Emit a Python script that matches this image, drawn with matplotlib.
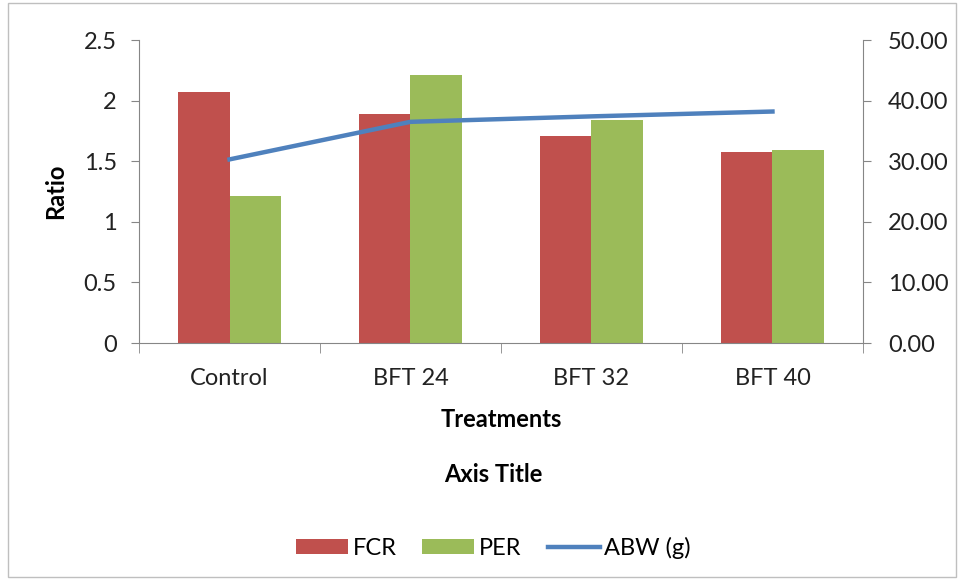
import numpy as np
import matplotlib.pyplot as plt
from matplotlib.patches import Rectangle

# data
treatments = ['Control', 'BFT 24', 'BFT 32', 'BFT 40']
fcr = [2.07, 1.89, 1.71, 1.58]
per = [1.21, 2.21, 1.84, 1.595]
abw = [30.3, 36.5, 37.4, 38.2]

red = '#C0504D'
green = '#9BBB59'
blue = '#4F81BD'
grey = '#868686'
fs = 17

plt.rcParams['font.family'] = ['Lato', 'DejaVu Sans']

fig = plt.figure(figsize=(9.58, 5.8), dpi=100)
ax = fig.add_axes([0.1451, 0.4086, 0.9008 - 0.1451, 0.931 - 0.4086])
ax2 = ax.twinx()

x = np.arange(len(treatments))
w = 0.285
b1 = ax.bar(x - w / 2, fcr, w, color=red, label='FCR')
b2 = ax.bar(x + w / 2, per, w, color=green, label='PER')
l1, = ax2.plot(x, abw, color=blue, lw=3.2, label='ABW (g)')

ax.set_xlim(-0.5, 3.5)
ax.set_ylim(0, 2.5)
ax.set_yticks([0, 0.5, 1, 1.5, 2, 2.5])
ax.set_yticklabels(['0', '0.5', '1', '1.5', '2', '2.5'])
ax2.set_ylim(0, 50)
ax2.set_yticks([0, 10, 20, 30, 40, 50])
ax2.set_yticklabels(['%.2f' % v for v in [0, 10, 20, 30, 40, 50]])

ax.set_xticks(x)
ax.set_xticklabels(treatments)
ax.set_xticks([-0.5, 0.5, 1.5, 2.5, 3.5], minor=True)
ax.tick_params(axis='x', which='major', length=0, pad=18, labelsize=fs, labelcolor='#222222')
ax.tick_params(axis='x', which='minor', length=7, color=grey)
ax.tick_params(axis='y', length=6, color=grey, labelsize=fs, labelcolor='#222222', pad=10)
ax2.tick_params(axis='y', length=6, color=grey, labelsize=fs, labelcolor='#222222', pad=12)

for a in (ax, ax2):
    a.spines['top'].set_visible(False)
    for s in ('left', 'right', 'bottom'):
        a.spines[s].set_color(grey)
ax.spines['right'].set_visible(False)
ax2.spines['left'].set_visible(False)
ax2.spines['bottom'].set_visible(False)

ax.set_ylabel('Ratio', fontsize=fs, fontweight='bold', labelpad=12)
ax.set_xlabel('Treatments', fontsize=fs, fontweight='bold', labelpad=14)
fig.text(0.515, 1 - 474 / 580, 'Axis Title', fontsize=fs, fontweight='bold', ha='center', va='center')

fig.legend([b1, b2, l1], ['FCR', 'PER', 'ABW (g)'], loc='center', ncol=3,
           bbox_to_anchor=(0.515, 1 - 548 / 580), frameon=False, fontsize=fs,
           handlelength=2.2, handleheight=0.6, columnspacing=1.1, handletextpad=0.2)

# chart border
fig.patches.append(Rectangle((0.008, 0.005), 0.99, 0.99, transform=fig.transFigure,
                             fill=False, edgecolor='#BFBFBF', lw=1))

fig.savefig('out.png', dpi=100)
